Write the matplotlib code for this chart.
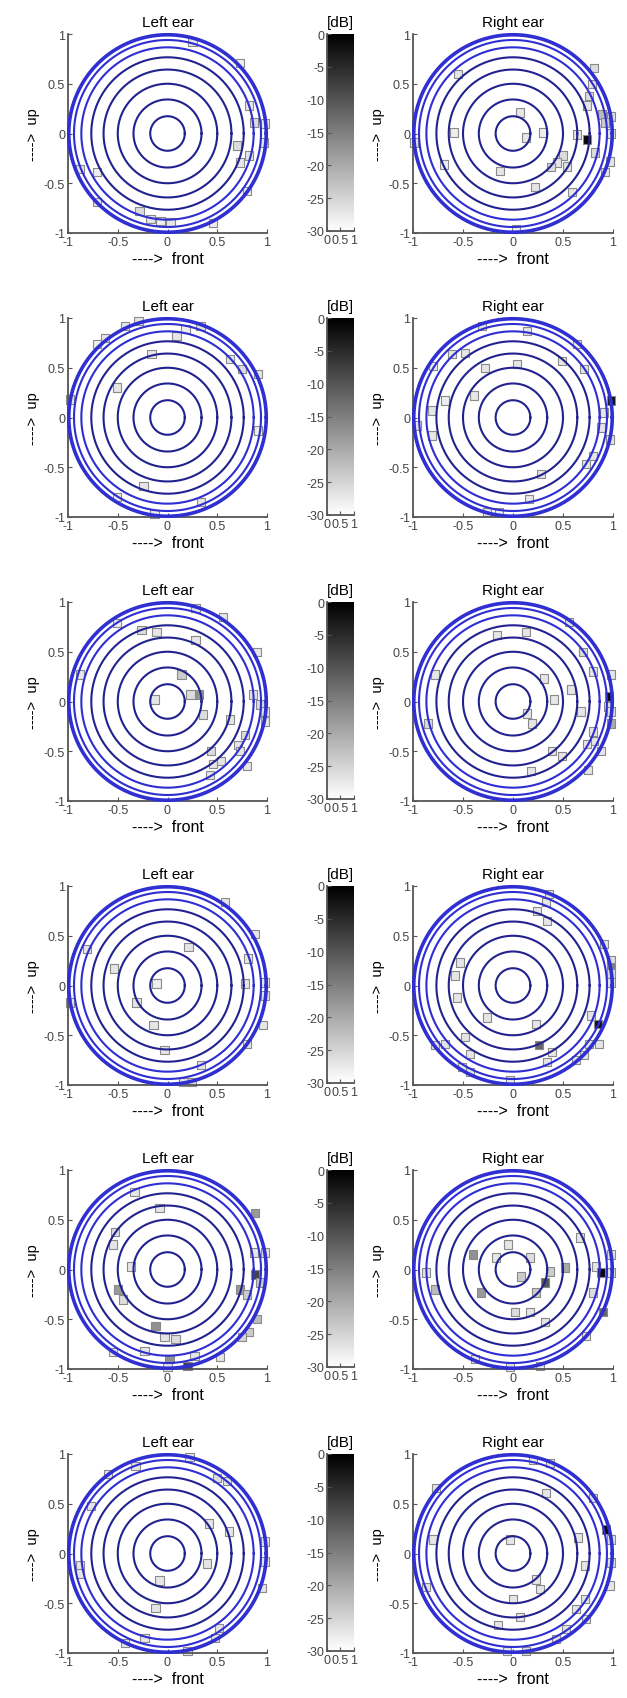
import numpy as np
import matplotlib
matplotlib.use("Agg")
import matplotlib.pyplot as plt

plt.rcParams['font.family'] = ['Liberation Sans', 'DejaVu Sans']

# lateral angles of the iso-lateral circles (deg), radius = cos(angle)
circle_angles = [0, 10, 20, 30, 40, 50, 60, 70, 80]
axis_ticks = [-1, -0.5, 0, 0.5, 1]
cbar_ticks = [0, -5, -10, -15, -20, -25, -30]
cbar_xticks = [0, 0.5, 1]
db_min, db_max = -30, 0

# (front, up, level in dB) per panel, row by row
left1 = [(0.25, 0.92, -27), (0.73, 0.71, -28), (0.82, 0.28, -27), (0.87, 0.11, -26),
         (0.98, 0.10, -28), (0.97, -0.09, -27), (0.70, -0.12, -26), (0.73, -0.29, -27),
         (0.80, -0.58, -28), (-0.88, -0.36, -27), (-0.71, -0.39, -28), (-0.71, -0.69, -27),
         (-0.28, -0.78, -26), (-0.17, -0.86, -27), (-0.07, -0.88, -28), (0.03, -0.89, -27),
         (0.46, -0.90, -28), (0.82, -0.22, -27)]
right1 = [(-0.55, 0.60, -27), (0.07, 0.21, -27), (0.81, 0.66, -26), (0.79, 0.50, -27),
          (0.76, 0.38, -26), (0.74, 0.28, -27), (0.89, 0.19, -22), (0.98, 0.17, -26),
          (0.92, 0.11, -24), (-0.59, 0.01, -28), (0.13, -0.04, -27), (0.30, 0.01, -28),
          (0.64, -0.01, -27), (0.74, -0.06, -1), (0.82, -0.19, -26), (0.98, 0.00, -27),
          (0.97, -0.28, -27), (0.50, -0.22, -26), (0.44, -0.29, -27), (0.38, -0.34, -26),
          (0.54, -0.33, -27), (-0.13, -0.38, -27), (-0.69, -0.31, -28), (0.22, -0.54, -27),
          (0.59, -0.59, -27), (0.92, -0.39, -27), (0.03, -0.96, -28), (-0.99, -0.09, -27)]
left2 = [(-0.29, 0.97, -27), (-0.43, 0.92, -27), (0.18, 0.89, -28), (0.33, 0.92, -27),
         (0.09, 0.82, -27), (-0.63, 0.80, -27), (-0.71, 0.74, -28), (-0.16, 0.64, -27),
         (0.63, 0.59, -27), (0.75, 0.49, -26), (0.91, 0.44, -27), (-0.51, 0.30, -27),
         (-0.98, 0.18, -27), (0.91, -0.13, -28), (-0.24, -0.69, -27), (-0.51, -0.80, -28),
         (0.34, -0.85, -27), (-0.13, -0.97, -28)]
right2 = [(-0.31, 0.92, -27), (0.14, 0.87, -27), (0.64, 0.74, -28), (-0.61, 0.64, -27),
          (-0.48, 0.65, -27), (-0.80, 0.52, -28), (-0.28, 0.50, -27), (0.04, 0.54, -27),
          (0.49, 0.57, -27), (0.71, 0.49, -27), (-0.39, 0.22, -27), (-0.68, 0.17, -28),
          (-0.81, 0.07, -27), (-0.96, -0.08, -27), (-0.81, -0.18, -27), (0.98, 0.17, -2),
          (0.91, 0.05, -27), (0.88, -0.10, -27), (0.97, -0.22, -27), (0.80, -0.39, -27),
          (0.73, -0.47, -27), (0.28, -0.57, -27), (0.16, -0.82, -27), (-0.26, -0.95, -27),
          (-0.14, -0.95, -28)]
left3 = [(0.28, 0.94, -27), (0.56, 0.85, -27), (-0.51, 0.79, -28), (-0.26, 0.72, -26),
         (-0.11, 0.70, -27), (0.28, 0.62, -27), (0.90, 0.50, -27), (-0.88, 0.27, -27),
         (0.14, 0.27, -24), (0.31, 0.07, -17), (0.23, 0.07, -26), (-0.13, 0.02, -27),
         (0.36, -0.13, -26), (0.86, 0.07, -27), (0.93, -0.03, -26), (0.98, -0.10, -27),
         (0.98, -0.20, -27), (0.63, -0.18, -27), (0.78, -0.34, -26), (0.71, -0.44, -27),
         (0.73, -0.50, -27), (0.44, -0.50, -26), (0.54, -0.60, -27), (0.46, -0.63, -27),
         (0.80, -0.65, -27), (0.43, -0.74, -27)]
right3 = [(0.56, 0.80, -27), (-0.16, 0.67, -27), (0.13, 0.70, -27), (0.70, 0.50, -26),
          (0.80, 0.30, -27), (0.98, 0.27, -27), (0.31, 0.23, -27), (0.58, 0.12, -27),
          (0.41, 0.02, -27), (0.96, 0.05, -1), (0.95, -0.05, -26), (0.98, -0.10, -27),
          (0.98, -0.22, -20), (0.68, -0.10, -27), (-0.78, 0.27, -27), (-0.85, -0.22, -26),
          (0.14, -0.12, -27), (0.19, -0.22, -27), (0.80, -0.30, -27), (0.81, -0.40, -27),
          (0.74, -0.43, -27), (0.88, -0.50, -27), (0.39, -0.50, -27), (0.49, -0.55, -27),
          (0.75, -0.69, -27), (0.18, -0.70, -27)]
left4 = [(0.58, 0.84, -27), (0.88, 0.52, -27), (0.21, 0.39, -27), (-0.81, 0.37, -27),
         (0.81, 0.27, -27), (-0.54, 0.17, -27), (0.78, 0.02, -27), (0.98, 0.03, -27),
         (0.98, -0.10, -27), (-0.11, 0.02, -28), (-0.98, -0.17, -27), (-0.31, -0.17, -27),
         (-0.14, -0.40, -27), (-0.03, -0.65, -27), (0.80, -0.59, -27), (0.96, -0.40, -27),
         (0.34, -0.80, -27), (0.24, -0.97, -26), (0.16, -0.97, -27)]
right4 = [(0.36, 0.92, -27), (0.33, 0.84, -27), (0.24, 0.75, -27), (0.34, 0.65, -27),
          (0.91, 0.42, -27), (0.98, 0.25, -26), (0.98, 0.18, -15), (0.98, 0.12, -26),
          (0.98, 0.03, -27), (-0.53, 0.23, -27), (-0.58, 0.10, -27), (-0.56, -0.12, -27),
          (-0.26, -0.32, -27), (0.23, -0.39, -27), (0.85, -0.39, -2), (0.78, -0.30, -27),
          (0.86, -0.59, -27), (0.76, -0.59, -27), (-0.48, -0.52, -27), (-0.68, -0.59, -27),
          (-0.78, -0.60, -27), (-0.43, -0.69, -27), (0.26, -0.60, -12), (0.39, -0.67, -27),
          (0.34, -0.77, -27), (0.71, -0.70, -27), (0.63, -0.75, -27), (-0.51, -0.82, -27),
          (-0.43, -0.87, -27), (-0.03, -0.95, -27)]
left5 = [(-0.33, 0.78, -27), (-0.08, 0.62, -27), (-0.53, 0.38, -26), (-0.55, 0.25, -27),
         (-0.37, 0.03, -27), (0.88, 0.57, -18), (0.87, 0.17, -27), (0.98, 0.17, -27),
         (0.88, -0.05, -8), (0.93, -0.13, -24), (0.73, -0.20, -18), (0.80, -0.25, -24),
         (-0.50, -0.20, -18), (-0.45, -0.30, -26), (0.90, -0.50, -22), (0.82, -0.63, -24),
         (0.75, -0.68, -25), (-0.12, -0.57, -17), (-0.03, -0.68, -27), (0.08, -0.70, -26),
         (-0.23, -0.82, -27), (-0.55, -0.83, -27), (0.02, -0.90, -17), (0.20, -0.97, -8),
         (0.00, -0.98, -27), (0.53, -0.88, -27), (0.27, -0.87, -27)]
right5 = [(-0.05, 0.25, -27), (-0.40, 0.15, -17), (-0.17, 0.12, -27), (0.17, 0.12, -26),
          (0.08, -0.07, -24), (0.37, -0.02, -24), (0.52, 0.02, -20), (0.32, -0.13, -10),
          (0.23, -0.23, -24), (-0.32, -0.23, -18), (0.02, -0.43, -26), (0.17, -0.43, -27),
          (0.32, -0.53, -27), (-0.78, -0.20, -22), (-0.87, -0.03, -27), (0.67, 0.32, -27),
          (0.98, 0.15, -27), (0.83, 0.03, -27), (0.88, -0.03, -1), (0.98, -0.03, -27),
          (0.80, -0.23, -26), (0.90, -0.43, -12), (0.73, -0.67, -27), (-0.38, -0.90, -27),
          (-0.03, -0.98, -27), (0.27, -0.97, -27)]
left6 = [(0.22, 0.97, -27), (-0.32, 0.88, -27), (-0.60, 0.80, -27), (0.60, 0.73, -27),
         (0.50, 0.76, -26), (-0.77, 0.48, -27), (0.42, 0.30, -27), (0.62, 0.22, -27),
         (0.98, 0.12, -27), (0.40, -0.10, -27), (-0.88, -0.12, -27), (-0.88, -0.20, -27),
         (0.98, -0.08, -27), (-0.08, -0.27, -27), (-0.12, -0.55, -27), (0.95, -0.35, -27),
         (0.52, -0.75, -27), (0.48, -0.85, -27), (-0.43, -0.90, -27), (-0.23, -0.85, -27),
         (0.20, -0.98, -27)]
right6 = [(0.20, 0.94, -27), (0.37, 0.91, -27), (-0.77, 0.66, -27), (0.33, 0.61, -27),
          (0.80, 0.56, -27), (0.93, 0.24, -1), (0.98, 0.14, -27), (0.98, -0.09, -27),
          (0.97, -0.32, -27), (-0.03, 0.14, -27), (-0.80, 0.14, -27), (0.65, 0.16, -27),
          (0.72, -0.12, -27), (-0.87, -0.34, -27), (0.23, -0.26, -27), (0.27, -0.36, -27),
          (0.00, -0.46, -27), (0.72, -0.46, -27), (0.63, -0.56, -27), (0.07, -0.64, -27),
          (-0.15, -0.72, -27), (0.73, -0.66, -27), (0.53, -0.76, -27), (0.43, -0.86, -27),
          (-0.06, -0.98, -27), (0.13, -0.98, -27)]

left_ear = [left1, left2, left3, left4, left5, left6]
right_ear = [right1, right2, right3, right4, right5, right6]

W, H = 627, 1699
ROW_TOP = 35
ROW_STEP = 284
AX_H = 199


def style_axes(ax):
    for side in ['top', 'right']:
        ax.spines[side].set_visible(False)
    for side in ['left', 'bottom']:
        ax.spines[side].set_color('#555555')
        ax.spines[side].set_linewidth(1.3)
    ax.tick_params(direction='in', length=3, width=0.8, colors='#555555',
                   labelsize=9, labelcolor='#444444', pad=2)


def draw_panel(ax, pts, title):
    xs = [p[0] for p in pts]
    ys = [p[1] for p in pts]
    lv = [p[2] for p in pts]
    ax.scatter(xs, ys, c=lv, cmap='gray_r', vmin=db_min, vmax=db_max, marker='s',
               s=36, edgecolors='#8a8a8a', linewidths=0.8, zorder=2, clip_on=False)
    theta = np.linspace(0, 2 * np.pi, 300)
    for ang in circle_angles:
        r = np.cos(np.radians(ang))
        col = '#2e2ed2' if ang < 35 else '#22228f'
        ax.plot(r * np.cos(theta), r * np.sin(theta), color=col, lw=1.5, zorder=3,
                clip_on=False)
    ax.set_xlim(-1, 1)
    ax.set_ylim(-1, 1)
    ax.set_xticks(axis_ticks)
    ax.set_yticks(axis_ticks)
    ax.set_xticklabels([f"{t:g}" for t in axis_ticks])
    ax.set_yticklabels([f"{t:g}" for t in axis_ticks])
    style_axes(ax)
    ax.set_title(title, fontsize=11, pad=6)
    ax.set_xlabel('---->  front', fontsize=11.5, labelpad=2)
    ax.set_ylabel('---->  up', fontsize=10.5, labelpad=3)


def draw_cbar(ax):
    grad = np.linspace(db_min, db_max, 256).reshape(-1, 1)
    ax.imshow(grad, cmap='gray_r', vmin=db_min, vmax=db_max, origin='lower',
              extent=[0, 1, db_min, db_max], aspect='auto')
    ax.set_xlim(0, 1)
    ax.set_ylim(db_min, db_max)
    ax.set_yticks(cbar_ticks)
    ax.set_yticklabels([f"{t:g}" for t in cbar_ticks])
    ax.set_xticks(cbar_xticks)
    ax.set_xticklabels([f"{t:g}" for t in cbar_xticks])
    style_axes(ax)
    ax.tick_params(axis='x', pad=2)
    ax.set_title('[dB]', fontsize=11, pad=6)


fig = plt.figure(figsize=(W / 100, H / 100), dpi=100)

for r in range(6):
    top = ROW_TOP + ROW_STEP * r
    bottom = 1 - (top + AX_H) / H
    hgt = AX_H / H
    ax_l = fig.add_axes([68 / W, bottom, 199 / W, hgt])
    draw_panel(ax_l, left_ear[r], 'Left ear')
    ax_c = fig.add_axes([327 / W, 1 - (top + 197) / H, 27 / W, 197 / H])
    draw_cbar(ax_c)
    ax_r = fig.add_axes([413 / W, bottom, 200 / W, hgt])
    draw_panel(ax_r, right_ear[r], 'Right ear')

fig.savefig('out.png', dpi=100)
